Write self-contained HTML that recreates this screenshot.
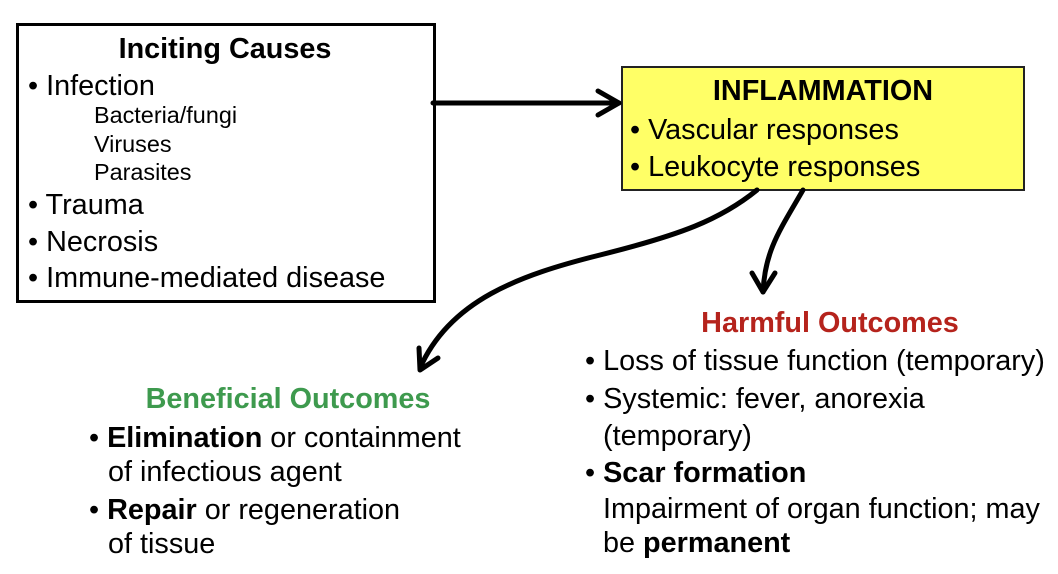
<!DOCTYPE html>
<html><head><meta charset="utf-8"><style>
body{margin:0;width:1058px;height:574px;background:#fff;position:relative;overflow:hidden;font-family:"Liberation Sans",sans-serif;color:#000}
.t{position:absolute;white-space:nowrap;line-height:1}
.b{font-weight:bold}
.l{font-size:28.8px}
.s{font-size:23.4px}
</style></head><body>
<div style="position:absolute;left:16px;top:23px;width:414px;height:274px;border:3px solid #000"></div>
<div style="position:absolute;left:621px;top:66px;width:400px;height:121px;border:2px solid #222;background:#ffff66"></div>
<svg width="1058" height="574" style="position:absolute;left:0;top:0">
<g fill="none" stroke="#000" stroke-width="5" stroke-linecap="round" stroke-linejoin="round">
<path d="M433 103 L619 103"/><path d="M598 91 L619 103 L598 115"/>
<path d="M757 190 C720 220 680 235 600 255 C520 275 450 300 420 368"/><path d="M419 348 L420 370 L438 358"/>
<path d="M803 190 C780 230 765 250 763 292"/><path d="M752 273 L763 292 L775 273"/>
</g></svg>
<div class="t b" style="left:17px;width:416px;text-align:center;top:35px;font-size:28.8px">Inciting Causes</div>
<div class="t l" style="left:28px;top:72px">• Infection</div>
<div class="t s" style="left:94px;top:104px">Bacteria/fungi</div>
<div class="t s" style="left:94px;top:133px">Viruses</div>
<div class="t s" style="left:94px;top:161px">Parasites</div>
<div class="t l" style="left:28px;top:191px">• Trauma</div>
<div class="t l" style="left:28px;top:228px">• Necrosis</div>
<div class="t l" style="left:28px;top:264px">• Immune-mediated disease</div>
<div class="t b" style="left:621px;width:404px;text-align:center;top:77px;font-size:28.8px">INFLAMMATION</div>
<div class="t l" style="left:630px;top:116px">• Vascular responses</div>
<div class="t l" style="left:630px;top:153px">• Leukocyte responses</div>
<div class="t b" style="left:600px;width:460px;text-align:center;top:309px;font-size:28.8px;color:#b5231c">Harmful Outcomes</div>
<div class="t l" style="left:585px;top:347px">• Loss of tissue function (temporary)</div>
<div class="t l" style="left:585px;top:385px">• Systemic: fever, anorexia</div>
<div class="t l" style="left:603px;top:422px">(temporary)</div>
<div class="t l" style="left:585px;top:459px">• <b>Scar formation</b></div>
<div class="t l" style="left:603px;top:495px">Impairment of organ function; may</div>
<div class="t l" style="left:603px;top:529px">be <b>permanent</b></div>
<div class="t b" style="left:88px;width:400px;text-align:center;top:385px;font-size:28.8px;color:#3e9a4e">Beneficial Outcomes</div>
<div class="t l" style="left:89px;top:424px">• <b>Elimination</b> or containment</div>
<div class="t l" style="left:108px;top:458px">of infectious agent</div>
<div class="t l" style="left:89px;top:496px">• <b>Repair</b> or regeneration</div>
<div class="t l" style="left:108px;top:530px">of tissue</div>
</body></html>
